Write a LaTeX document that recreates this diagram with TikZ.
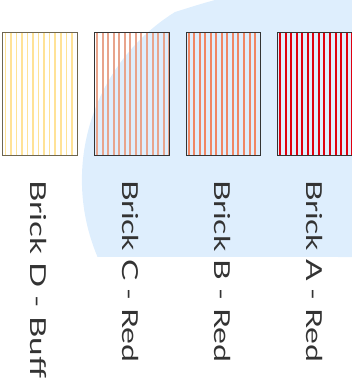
\documentclass[tikz,border=0pt]{standalone}
\usepackage{fontspec}
\newfontfamily\hand{Lato}
\definecolor{bgblue}{RGB}{222,238,253}
\definecolor{buffline}{RGB}{255,226,150}
\definecolor{cline}{RGB}{232,164,140}
\definecolor{bline}{RGB}{240,134,100}
\definecolor{aline}{RGB}{224,0,16}
\definecolor{buffedge}{RGB}{110,102,80}
\newcommand{\handtxt}[2]{\resizebox{#1}{\height}{#2}}
\tikzset{
  brickbox/.style={draw=#1, line width=1pt},
  lbl/.style={rotate=-90, anchor=west, inner sep=0pt, font=\hand\fontsize{22}{24}\selectfont, text=black!80}
}
\begin{document}
\begin{tikzpicture}[x=1pt,y=-1pt]
\useasboundingbox (0,0) rectangle (352,382);
% background blob
\fill[bgblue] (352,0) -- (215,0) .. controls (200,4) and (188,8) .. (175,12)
  arc[start angle=238, end angle=157.1, radius=198] -- (352,257) -- cycle;
% stripes
\begin{scope}
\clip (2,32) rectangle (77,155);
\foreach \k in {0,...,13} \fill[buffline] ({4.5+5.55*\k},32) rectangle ({6+5.55*\k},155);
\end{scope}
\begin{scope}
\clip (94,32) rectangle (169,155);
\foreach \k in {0,...,13} \fill[cline] ({96+5.55*\k},32) rectangle ({98+5.55*\k},155);
\end{scope}
\begin{scope}
\clip (186,32) rectangle (260,155);
\foreach \k in {0,...,13} \fill[bline] ({187.5+5.55*\k},32) rectangle ({189.5+5.55*\k},155);
\end{scope}
\begin{scope}
\clip (277,32) rectangle (360,155);
\foreach \k in {0,...,15} \fill[aline] ({279+5.55*\k},32) rectangle ({281+5.55*\k},155);
\end{scope}
% boxes
\node[brickbox=buffedge, minimum width=75pt, minimum height=123pt, inner sep=0pt, anchor=north west] (bd) at (2,32) {};
\node[brickbox=black!80, minimum width=75pt, minimum height=123pt, inner sep=0pt, anchor=north west] (bc) at (94,32) {};
\node[brickbox=black!80, minimum width=74pt, minimum height=123pt, inner sep=0pt, anchor=north west] (bb) at (186,32) {};
\node[brickbox=black!80, minimum width=80pt, minimum height=123pt, inner sep=0pt, anchor=north west] (ba) at (277,32) {};
% labels
\node[lbl] (ld) at (39,180) {\handtxt{198pt}{Brick D - Buff}};
\node[lbl] (lc) at (131,180) {\handtxt{182pt}{Brick C - Red}};
\node[lbl] (lb) at (223,180) {\handtxt{182pt}{Brick B - Red}};
\node[lbl] (la) at (315,180) {\handtxt{182pt}{Brick A - Red}};
\end{tikzpicture}
\end{document}
